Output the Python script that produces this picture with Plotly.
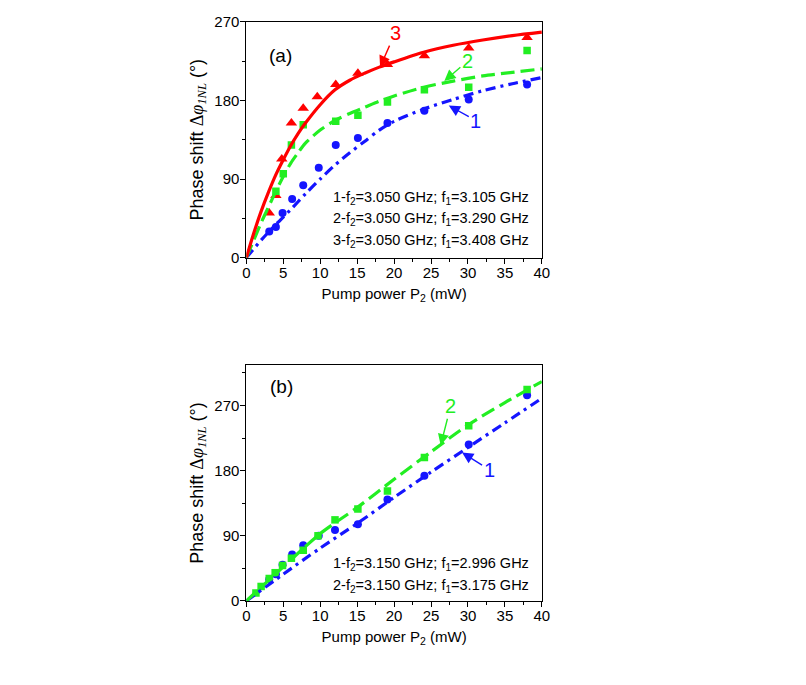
import plotly.graph_objects as go

# ---------------- data: panel (a) ----------------
a_x_red = [3.1, 4.0, 4.8, 6.1, 7.7, 9.6, 12.1, 15.1, 19.1, 24.1, 30.1, 38.0]
a_y_red = [51, 71, 113, 154, 171, 184, 198, 211, 221, 231, 240, 252]
a_x_green = [4.0, 5.0, 6.1, 7.7, 12.1, 15.1, 19.1, 24.1, 30.1, 38.0]
a_y_green = [76, 96, 129, 152, 156, 163, 178, 192, 195, 237]
a_x_blue = [3.1, 4.0, 4.9, 6.2, 7.7, 9.8, 12.1, 15.1, 19.1, 24.1, 30.1, 38.0]
a_y_blue = [30, 35, 51, 67, 83, 103, 129, 137, 154, 168, 181, 198]

# fitted curves
a_fx = [0, 1, 2, 3, 4, 5, 6, 7, 8, 10, 12, 14, 16, 18, 20, 24, 28, 32, 36, 40]
a_fit_red = [0, 28, 53, 75, 95, 112, 128, 142, 154, 175, 192, 203, 211, 218, 224, 235, 243, 249, 254, 258]
a_fit_green = [0, 20, 40, 58, 76, 93, 108, 120, 131, 146, 157, 165, 172, 179, 185, 195, 202, 208, 212, 216]
a_fx_blue = [0, 2, 4, 6, 8, 10, 12, 14, 16, 18, 20, 24, 28, 32, 36, 40]
a_fit_blue = [0, 20, 38, 55, 73, 90, 106, 120, 133, 146, 156, 170, 181, 191, 199, 206]

a_legend = ["1-f<sub>2</sub>=3.050 GHz; f<sub>1</sub>=3.105 GHz",
            "2-f<sub>2</sub>=3.050 GHz; f<sub>1</sub>=3.290 GHz",
            "3-f<sub>2</sub>=3.050 GHz; f<sub>1</sub>=3.408 GHz"]

# ---------------- data: panel (b) ----------------
b_x_green = [1.3, 2.0, 3.1, 3.9, 4.9, 6.1, 7.7, 9.7, 12.0, 15.1, 19.1, 24.1, 30.1, 38.0]
b_y_green = [11, 20, 31, 39, 49, 59, 70, 90, 112, 127, 152, 198, 242, 292]
b_x_blue = [3.1, 4.0, 4.9, 6.2, 7.7, 9.8, 12.0, 15.1, 19.1, 24.1, 30.1, 38.0]
b_y_blue = [30, 37, 50, 64, 77, 90, 98, 106, 140, 173, 216, 284]

b_fx = [0, 5, 10, 15, 20, 25, 30, 35, 40]
b_fit_green = [0, 47, 93, 129, 168, 206, 243, 274, 303]
b_fit_blue = [0, 37, 73, 107, 143, 178, 212, 246, 280]

b_legend = ["1-f<sub>2</sub>=3.150 GHz; f<sub>1</sub>=2.996 GHz",
            "2-f<sub>2</sub>=3.150 GHz; f<sub>1</sub>=3.175 GHz"]

x_ticks = [0, 5, 10, 15, 20, 25, 30, 35, 40]
y_ticks = [0, 90, 180, 270]

RED = "#ff0000"
GREEN = "#22ee22"
BLUE = "#1515ff"
FONT = "Liberation Sans, Arial, sans-serif"

fig = go.Figure()

def add_fit(x, y, color, dash, xa, ya):
    fig.add_trace(go.Scatter(x=x, y=y, mode="lines", line=dict(color=color, width=3.2, dash=dash, shape="spline", smoothing=0.8),
                             xaxis=xa, yaxis=ya, showlegend=False, hoverinfo="skip"))

def add_pts(x, y, color, symbol, size, xa, ya):
    fig.add_trace(go.Scatter(x=x, y=y, mode="markers", marker=dict(color=color, symbol=symbol, size=size, line=dict(width=0)),
                             xaxis=xa, yaxis=ya, showlegend=False))

# panel (a)
add_pts(a_x_red, a_y_red, RED, "triangle-up", 10, "x", "y")
add_pts(a_x_green, a_y_green, GREEN, "square", 7.5, "x", "y")
add_pts(a_x_blue, a_y_blue, BLUE, "circle", 8, "x", "y")
add_fit(a_fx_blue, a_fit_blue, BLUE, "10px,5px,3px,5px", "x", "y")
add_fit(a_fx, a_fit_green, GREEN, "14px,6px", "x", "y")
add_fit(a_fx, a_fit_red, RED, "solid", "x", "y")

# panel (b)
add_pts(b_x_blue, b_y_blue, BLUE, "circle", 8, "x2", "y2")
add_pts(b_x_green, b_y_green, GREEN, "square", 7.5, "x2", "y2")
add_fit(b_fx, b_fit_blue, BLUE, "10px,5px,3px,5px", "x2", "y2")
add_fit(b_fx, b_fit_green, GREEN, "14px,6px", "x2", "y2")

XD = [246 / 806, 546 / 806]
YA = [1 - 255 / 685, 1 - 13 / 685]
YB = [1 - 607 / 685, 1 - 365 / 685]

tickfont = dict(family=FONT, size=15, color="black")
xtitlefont = dict(family=FONT, size=15, color="black")
ytitlefont = dict(family=FONT, size=18, color="black")
ytitle = ("Phase shift <span style=\"font-family:'Liberation Serif', 'Times New Roman', serif\">Δ<i>φ</i>"
          "<sub><i>1NL</i></sub></span> (°)")
xtitle = "Pump power P<sub>2</sub> (mW)"

def main_x(anchor, rng):
    return dict(domain=XD, anchor=anchor, range=rng, tickvals=x_ticks, ticks="outside", ticklen=5, tickwidth=1,
                tickcolor="black", showline=True, linecolor="black", linewidth=1, mirror=True, showgrid=False,
                zeroline=False, tickfont=tickfont, ticklabelstandoff=-4,
                title=dict(text=xtitle, font=xtitlefont, standoff=8),
                minor=dict(dtick=2.5, tick0=0, ticks="outside", ticklen=3, tickcolor="black", showgrid=False))

def main_y(anchor, rng, dom):
    return dict(domain=dom, anchor=anchor, range=rng, tickvals=y_ticks, ticks="outside", ticklen=5, tickwidth=1,
                tickcolor="black", showline=True, linecolor="black", linewidth=1, mirror=True, showgrid=False,
                zeroline=False, tickfont=tickfont, ticklabelstandoff=-2,
                title=dict(text=ytitle, font=ytitlefont, standoff=6),
                minor=dict(dtick=45, tick0=0, ticks="outside", ticklen=3, tickcolor="black", showgrid=False))

def top_x(over, anchor, rng):
    return dict(overlaying=over, anchor=anchor, side="top", range=rng, tickvals=x_ticks, ticks="inside", ticklen=5,
                tickcolor="black", showticklabels=False, showline=False, showgrid=False, zeroline=False,
                minor=dict(dtick=2.5, tick0=0, ticks="inside", ticklen=3, tickcolor="black", showgrid=False))

def right_y(over, anchor, rng):
    return dict(overlaying=over, anchor=anchor, side="right", range=rng, tickvals=y_ticks, ticks="inside", ticklen=5,
                tickcolor="black", showticklabels=False, showline=False, showgrid=False, zeroline=False,
                minor=dict(dtick=45, tick0=0, ticks="inside", ticklen=3, tickcolor="black", showgrid=False))

RA = [0, 270]
RB = [0, 326]
XR = [0, 40]

fig.update_layout(
    width=806, height=685, margin=dict(l=0, r=0, t=0, b=0),
    paper_bgcolor="white", plot_bgcolor="white", showlegend=False,
    xaxis=main_x("y", XR), yaxis=main_y("x", RA, YA),
    xaxis2=main_x("y2", XR), yaxis2=main_y("x2", RB, YB),
    xaxis3=top_x("x", "y", XR), yaxis3=right_y("y", "x", RA),
    xaxis4=top_x("x2", "y2", XR), yaxis4=right_y("y2", "x2", RB),
)

ann = []
# panel labels
ann.append(dict(text="(a)", x=266.7 / 806, y=1 - 35 / 685, xref="paper", yref="paper", showarrow=False,
                font=dict(family=FONT, size=19, color="black")))
ann.append(dict(text="(b)", x=268 / 806, y=1 - 387 / 685, xref="paper", yref="paper", showarrow=False,
                font=dict(family=FONT, size=19, color="black")))

# legend texts
for i, t in enumerate(a_legend):
    ann.append(dict(text=t, x=535 / 806, y=1 - (194 + 21.8 * i) / 685, xref="paper", yref="paper",
                    xanchor="right", yanchor="middle", showarrow=False, font=dict(family=FONT, size=14.5, color="black")))
for i, t in enumerate(b_legend):
    ann.append(dict(text=t, x=535 / 806, y=1 - (569.5 + 21.8 * i) / 685, xref="paper", yref="paper",
                    xanchor="right", yanchor="middle", showarrow=False, font=dict(family=FONT, size=14.5, color="black")))

# curve labels with arrows (text sits at the arrow tail)
def label(txt, color, hx, hy, ax, ay, xr, yr):
    ann.append(dict(text=txt, x=hx, y=hy, xref=xr, yref=yr, ax=ax, ay=ay, axref="pixel", ayref="pixel",
                    showarrow=True, arrowhead=2, arrowsize=1.6, arrowwidth=1.4, arrowcolor=color,
                    font=dict(family=FONT, size=20, color=color)))

label("3", RED, 18.1, 218, 15, -34, "x", "y")
label("2", GREEN, 26.8, 202, 23, -20, "x", "y")
label("1", BLUE, 27.4, 174, 27, 15, "x", "y")
label("2", GREEN, 26.3, 215, 10, -39, "x2", "y2")
label("1", BLUE, 29.2, 205, 27, 17, "x2", "y2")

fig.update_layout(annotations=ann)
css_fix = ("document.documentElement.style.margin='0';document.documentElement.style.padding='0';"
           "document.documentElement.style.overflow='hidden';"
           "document.body.style.margin='0';document.body.style.padding='0';document.body.style.overflow='hidden';")
fig.write_html("out.html", post_script=css_fix)
